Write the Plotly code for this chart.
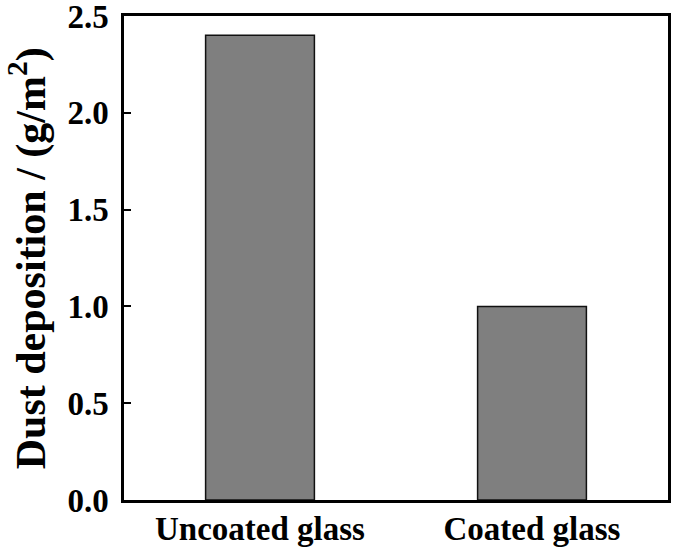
import plotly.graph_objects as go

categories = ["Uncoated glass", "Coated glass"]
dust_deposition = [2.4, 1.0]
y_ticks = [0.0, 0.5, 1.0, 1.5, 2.0, 2.5]
y_tick_labels = ["0.0", "0.5", "1.0", "1.5", "2.0", "2.5"]
y_title = "Dust deposition / (g/m<sup>2</sup>)"

FONT = "Liberation Serif"

fig = go.Figure()
fig.add_trace(go.Bar(
    x=categories, y=dust_deposition, width=0.4,
    marker=dict(color="#7f7f7f", line=dict(color="#111111", width=1.5)),
    showlegend=False,
))

fig.update_layout(
    width=675, height=550,
    margin=dict(l=124, r=7, t=16, b=50, autoexpand=False),
    paper_bgcolor="white", plot_bgcolor="white",
    font=dict(family=FONT, color="black"),
)
fig.update_xaxes(
    range=[-0.5, 1.5], showgrid=False, ticks="", automargin=False,
    showline=True, linecolor="black", linewidth=2.5, mirror=True,
    tickfont=dict(family=FONT, size=33, color="black", weight="bold"),
    ticklabelstandoff=-2,
)
fig.update_yaxes(
    range=[0, 2.5], showgrid=False, zeroline=False, automargin=False,
    tickvals=y_ticks, ticktext=y_tick_labels, ticklabeloverflow="allow",
    ticks="inside", ticklen=7, tickwidth=2, tickcolor="black",
    showline=True, linecolor="black", linewidth=2.5, mirror=True,
    tickfont=dict(family=FONT, size=33, color="black", weight="bold"),
    ticklabelstandoff=6,
)
fig.add_annotation(
    text=y_title, xref="paper", yref="paper",
    x=-0.176, y=0.5, xanchor="center", yanchor="middle",
    textangle=-90, showarrow=False,
    font=dict(family=FONT, size=42, color="black", weight="bold"),
)

fig.write_html("out.html", config={"displayModeBar": False},
               post_script="document.body.style.margin='0';")
